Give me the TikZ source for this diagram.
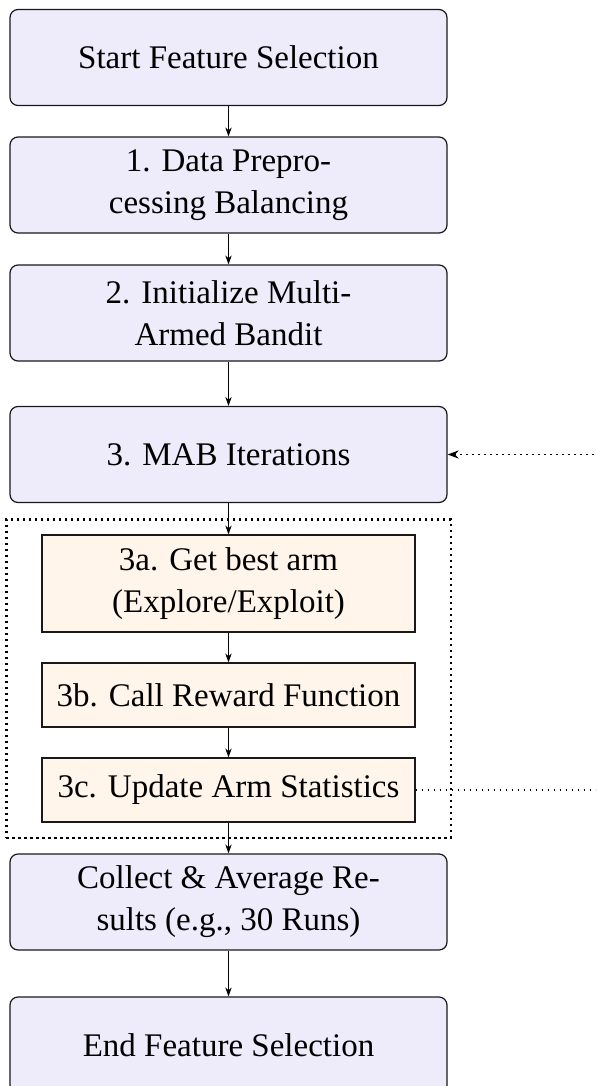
\documentclass[tikz,border=0pt]{standalone}
\usepackage{fontspec}
\setmainfont{Liberation Serif}
\usetikzlibrary{arrows.meta,fit}
\definecolor{stagefill}{RGB}{238,236,250}
\definecolor{subfill}{RGB}{255,245,235}
\tikzset{
  stagebox/.style={draw=black!90, line width=0.6pt, rounded corners=4pt, fill=stagefill,
    minimum width=218.5pt, minimum height=48pt, align=center, inner sep=2pt},
  subbox/.style={draw=black!90, line width=0.6pt, fill=subfill,
    minimum width=186.5pt, align=center, inner sep=2pt},
  flow/.style={-{Stealth[length=4.5pt,width=3.2pt]}, line width=0.45pt},
  loopline/.style={dash pattern=on 0.8pt off 2.2pt, line width=0.8pt},
  group/.style={draw, dash pattern=on 1.1pt off 1.9pt, line width=1.1pt,
    inner xsep=17.5pt, inner ysep=7.5pt}
}
\begin{document}
\begin{tikzpicture}[x=0.5pt,y=-0.5pt,font=\fontsize{16.5}{21}\selectfont]
\path[use as bounding box] (0,0) rectangle (596,1086);
\clip (0,0) rectangle (596,1086);

\node[stagebox] (start) at (228.5,57.5) {Start Feature Selection};
\node[stagebox] (prep) at (228.5,185) {1. Data Prepro-\\cessing Balancing};
\node[stagebox] (init) at (228.5,313) {2. Initialize Multi-\\Armed Bandit};
\node[stagebox] (mab) at (228.5,454.5) {3. MAB Iterations};

\node[subbox, minimum height=48.5pt] (arm) at (228.5,583.5) {3a. Get best arm\\(Explore/Exploit)};
\node[subbox, minimum height=32pt] (reward) at (228.5,695) {3b. Call Reward Function};
\node[subbox, minimum height=32pt] (update) at (228.5,790) {3c. Update Arm Statistics};

\node[group, fit=(arm)(reward)(update)] (loop) {};

\node[stagebox] (collect) at (228.5,902) {Collect \& Average Re-\\sults (e.g., 30 Runs)};
\node[stagebox] (finish) at (228.5,1045) {End Feature Selection};

\draw[flow] (start) -- (prep);
\draw[flow] (prep) -- (init);
\draw[flow] (init) -- (mab);
\draw[flow] (mab) -- (arm);
\draw[flow] (arm) -- (reward);
\draw[flow] (reward) -- (update);
\draw[flow] (update) -- (collect);
\draw[flow] (collect) -- (finish);

% feedback from the statistics update back to the iteration step
\coordinate (turn) at (640,790);
\draw[loopline, -{Stealth[length=5.5pt,width=4pt]}] (update.east) -- (turn) |- (mab.east);
\end{tikzpicture}
\end{document}
